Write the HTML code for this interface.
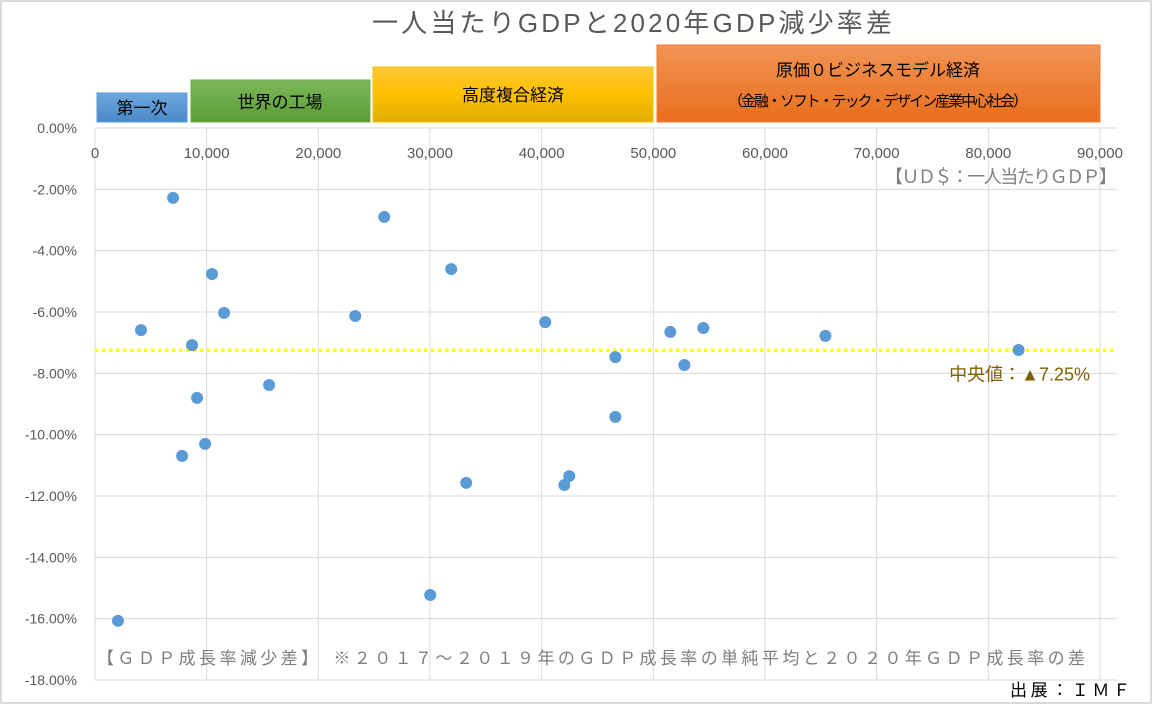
<!DOCTYPE html>
<html><head><meta charset="utf-8"><style>
html,body{margin:0;padding:0;background:#fff;}
body{width:1162px;height:713px;overflow:hidden;font-family:"Liberation Sans","Noto Sans CJK JP",sans-serif;}
</style></head><body>
<svg id="chart" width="1162" height="713" xmlns="http://www.w3.org/2000/svg" font-family="'Liberation Sans','Noto Sans CJK JP',sans-serif">
<rect x="1" y="1" width="1150" height="702" fill="#fff" stroke="#d9d9d9" stroke-width="2"/>
<defs>
<linearGradient id="gb" x1="0" y1="0" x2="0" y2="1"><stop offset="0" stop-color="#6ea8de"/><stop offset="1" stop-color="#4a88c8"/></linearGradient>
<linearGradient id="gg" x1="0" y1="0" x2="0" y2="1"><stop offset="0" stop-color="#7cb85a"/><stop offset="1" stop-color="#5a9d35"/></linearGradient>
<linearGradient id="gy" x1="0" y1="0" x2="0" y2="1"><stop offset="0" stop-color="#ffc838"/><stop offset="0.5" stop-color="#ffc000"/><stop offset="1" stop-color="#e0ad00"/></linearGradient>
<linearGradient id="go" x1="0" y1="0" x2="0" y2="1"><stop offset="0" stop-color="#f29455"/><stop offset="1" stop-color="#e86e1c"/></linearGradient>
</defs>
<text x="632" y="32" text-anchor="middle" font-size="26" fill="#595959" textLength="520">一人当たりGDPと2020年GDP減少率差</text>
<rect x="97" y="93" width="90" height="29" fill="url(#gb)" stroke="#5b9bd5"/>
<text x="142" y="114" text-anchor="middle" font-size="17" fill="#000">第一次</text>
<rect x="191" y="80" width="179" height="42" fill="url(#gg)" stroke="#70ad47"/>
<text x="280" y="108" text-anchor="middle" font-size="17" fill="#000">世界の工場</text>
<rect x="373" y="67" width="280" height="55" fill="url(#gy)" stroke="#ffc000"/>
<text x="513" y="101" text-anchor="middle" font-size="17" fill="#000">高度複合経済</text>
<rect x="657" y="45" width="443" height="77" fill="url(#go)" stroke="#ed7d31"/>
<text x="878" y="76" text-anchor="middle" font-size="17" fill="#000">原価０ビジネスモデル経済</text>
<text x="878" y="106" text-anchor="middle" font-size="15" fill="#000" textLength="300">（金融・ソフト・テック・デザイン産業中心社会）</text>
<g id="grid"></g>
<g id="ticks"></g>
<line id="median" x1="95" x2="1117" stroke="#ffff00" stroke-width="3.5" stroke-dasharray="3.5,3.5"/>
<text id="medlabel" x="1090" text-anchor="end" font-size="18" fill="#7f6000">中央値：▲7.25%</text>
<g id="points"></g>
<text x="885" y="183" font-size="18" fill="#7f7f7f" textLength="232">【ＵＤ＄：一人当たりＧＤＰ】</text>
<text x="97" y="664" font-size="17" fill="#7f7f7f" textLength="988">【ＧＤＰ成長率減少差】　※２０１７～２０１９年のＧＤＰ成長率の単純平均と２０２０年ＧＤＰ成長率の差</text>
<text x="1010" y="696" font-size="17" fill="#000" textLength="120">出展：ＩＭＦ</text>
</svg>
<script>
const xTicks=[0,10000,20000,30000,40000,50000,60000,70000,80000,90000];
const yTicks=[0,-2,-4,-6,-8,-10,-12,-14,-16,-18];
const gdpPerCapita=[6990,25900,31900,10480,11560,23300,40320,4120,51520,54480,65410,8690,82710,46600,52780,15590,9140,46600,9860,7800,42470,42030,33240,30020,2060];
const gdpDrop=[-2.28,-2.90,-4.60,-4.76,-6.03,-6.13,-6.33,-6.59,-6.65,-6.52,-6.78,-7.08,-7.24,-7.47,-7.73,-8.38,-8.80,-9.42,-10.30,-10.69,-11.35,-11.64,-11.57,-15.23,-16.07];
const median=-7.25;
const X0=95,X1=1100,Y0=128,Y1=680;
const xs=v=>X0+(v-0)/90000*(X1-X0);
const ys=v=>Y0+(0-v)/18*(Y1-Y0);
const NS='http://www.w3.org/2000/svg';
const grid=document.getElementById('grid'),ticks=document.getElementById('ticks'),pts=document.getElementById('points');
function mk(t,a,p){const e=document.createElementNS(NS,t);for(const k in a)e.setAttribute(k,a[k]);p.appendChild(e);return e;}
yTicks.forEach(v=>{
 const l=mk('line',{x1:X0,x2:1117,y1:ys(v),y2:ys(v),stroke:'#d9d9d9','stroke-width':1},grid);
 
 
 const t=mk('text',{x:77,y:ys(v)+5,'text-anchor':'end','font-size':14,fill:'#595959'},ticks);
 t.textContent=v.toFixed(2)+'%';
 
 
});
xTicks.forEach(v=>{
 const l=mk('line',{x1:xs(v),x2:xs(v),y1:Y0,y2:Y1,stroke:'#d9d9d9','stroke-width':1},grid);
 
 
 const t=mk('text',{x:xs(v),y:Y0+30,'text-anchor':'middle','font-size':15,fill:'#595959'},ticks);
 t.textContent=v.toLocaleString('en-US');
 
 
});
const m=document.getElementById('median');m.setAttribute('y1',ys(median));m.setAttribute('y2',ys(median));
document.getElementById('medlabel').setAttribute('y',ys(median)+30);
gdpPerCapita.forEach((x,i)=>{
 const c=mk('circle',{cx:xs(x),cy:ys(gdpDrop[i]),r:6,fill:'#5b9bd5'},pts);
 
 
});
</script>
</body></html>
